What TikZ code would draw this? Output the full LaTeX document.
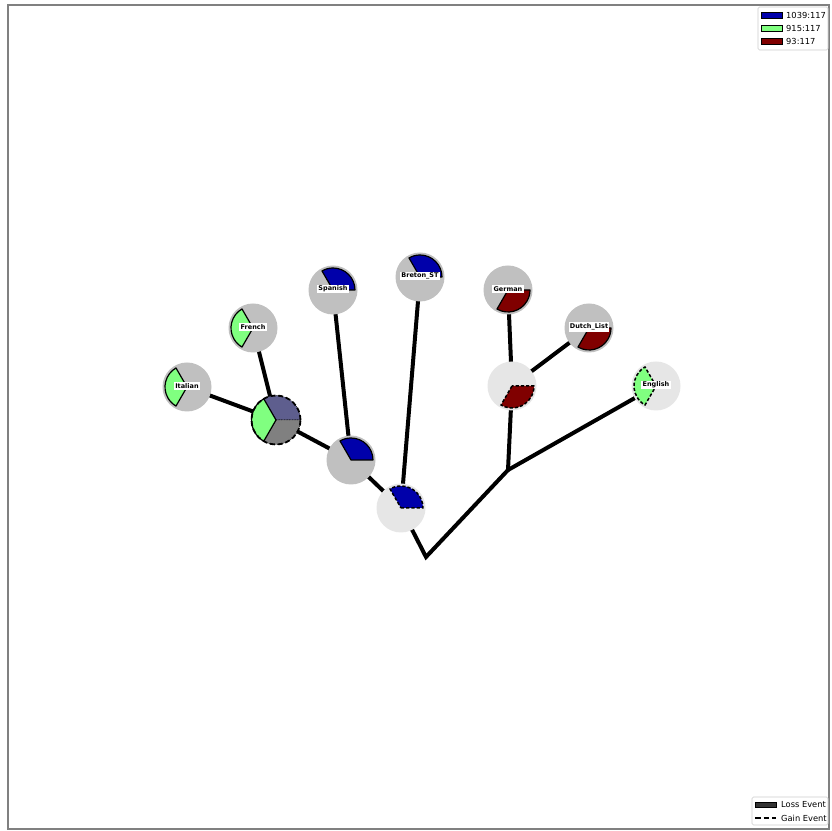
\documentclass[tikz,border=0pt]{standalone}
\usepackage{fontspec}
\setmainfont{DejaVu Sans}
\usetikzlibrary{backgrounds}

\definecolor{famblue}{HTML}{0000AA}
\definecolor{famgreen}{HTML}{80FF80}
\definecolor{famred}{HTML}{800000}
\definecolor{leafgrey}{HTML}{C0C0C0}
\definecolor{innergrey}{HTML}{E6E6E6}
\definecolor{lossblue}{HTML}{5E5E8E}
\definecolor{lossgrey}{HTML}{808080}
\definecolor{framegrey}{HTML}{808080}

\tikzset{
  treenode/.style={circle, minimum size=49pt, inner sep=0pt, draw=none},
  leafnode/.style={treenode, fill=leafgrey},
  innernode/.style={treenode, fill=innergrey},
  branch/.style={line width=4pt, line join=miter},
  slicesolid/.style={draw=black, line width=1.2pt, line join=round},
  slicegain/.style={draw=black, line width=1.5pt, line join=round, dash pattern=on 3.2pt off 2pt},
  slicefaint/.style={draw=black, line width=0.5pt, dash pattern=on 0.8pt off 0.8pt},
  lossring/.style={draw=black, line width=1.8pt, dash pattern=on 5pt off 2.8pt},
  taxon/.style={fill=white, inner sep=1.3pt, font=\fontsize{6.5}{7.5}\selectfont\bfseries},
  legendbox/.style={draw=black!20, fill=white, rounded corners=1.5pt, line width=0.6pt},
  legendtext/.style={font=\fontsize{8.3}{9}\selectfont, anchor=west, inner sep=0pt},
  legendpatch/.style={draw=black, line width=0.8pt},
}

% one third of a pie: centre, start angle, end angle, radius, style
\newcommand\pieslice[5]{%
  \path[#5] (#1) -- ++(#2:#4) arc[start angle=#2, end angle=#3, radius=#4] -- cycle;}

\begin{document}
\begin{tikzpicture}[x=1pt, y=1pt]
  \useasboundingbox (0,0) rectangle (831,831);

  % tree nodes
  \node[leafnode]  (italian) at (187,444) {};
  \node[leafnode]  (french)  at (253,503) {};
  \node[treenode]  (loss)    at (276,411) {};
  \node[leafnode]  (spanish) at (333,541) {};
  \node[leafnode]  (A)       at (351,371) {};
  \node[leafnode]  (breton)  at (420,554) {};
  \node[innernode] (B)       at (401,323) {};
  \node[leafnode]  (german)  at (508,541) {};
  \node[leafnode]  (dutch)   at (589,503) {};
  \node[innernode] (C)       at (512,445) {};
  \node[innernode] (english) at (656,445) {};
  \coordinate (root) at (426,274);
  \coordinate (D)    at (508,361);

  % page, frame and branches, beneath the nodes
  \begin{scope}[on background layer]
    \fill[white] (0,0) rectangle (831,831);
    \draw[framegrey, line width=1.2pt] (8,2) rectangle (829,826);
    \draw[branch] (B.center) -- (root) -- (D) -- (C.center);
    \draw[branch] (D) -- (english.center);
    \draw[branch] (C.center) -- (german.center);
    \draw[branch] (C.center) -- (dutch.center);
    \draw[branch] (B.center) -- (breton.center);
    \draw[branch] (B.center) -- (A.center);
    \draw[branch] (A.center) -- (spanish.center);
    \draw[branch] (A.center) -- (loss.center);
    \draw[branch] (loss.center) -- (italian.center);
    \draw[branch] (loss.center) -- (french.center);
  \end{scope}

  % family slices
  \pieslice{italian.center}{120}{240}{22}{fill=famgreen, slicesolid}
  \pieslice{french.center}{120}{240}{22}{fill=famgreen, slicesolid}
  \pieslice{spanish.center}{0}{120}{22}{fill=famblue, slicesolid}
  \pieslice{breton.center}{0}{120}{22}{fill=famblue, slicesolid}
  \pieslice{german.center}{240}{360}{22}{fill=famred, slicesolid}
  \pieslice{dutch.center}{240}{360}{22}{fill=famred, slicesolid}
  \pieslice{A.center}{0}{120}{22}{fill=famblue, slicesolid}
  \pieslice{B.center}{0}{120}{22}{fill=famblue, slicegain}
  \pieslice{C.center}{240}{360}{22}{fill=famred, slicegain}
  \pieslice{english.center}{120}{240}{22}{fill=famgreen, slicegain}

  % node with losses
  \pieslice{loss.center}{0}{120}{24.5}{fill=lossblue, slicefaint}
  \pieslice{loss.center}{240}{360}{24.5}{fill=lossgrey, slicefaint}
  \pieslice{loss.center}{120}{240}{24.5}{fill=famgreen, slicesolid}
  \draw[lossring] (loss.center) circle[radius=24.5];

  % taxon labels
  \node[taxon] (italian-lbl) at ([yshift=1]italian.center) {Italian};
  \node[taxon] (french-lbl)  at ([yshift=1]french.center)  {French};
  \node[taxon] (spanish-lbl) at ([yshift=1]spanish.center) {Spanish};
  \node[taxon] (breton-lbl)  at ([yshift=1]breton.center)  {Breton\_ST};
  \node[taxon] (german-lbl)  at ([yshift=1]german.center)  {German};
  \node[taxon] (dutch-lbl)   at ([yshift=1]dutch.center)   {Dutch\_List};
  \node[taxon] (english-lbl) at ([yshift=1]english.center) {English};

  % family legend
  \draw[legendbox] (758,781) rectangle (828,824);
  \draw[legendpatch, fill=famblue]  (761,813) rectangle (782,819);
  \draw[legendpatch, fill=famgreen] (761,800) rectangle (782,806);
  \draw[legendpatch, fill=famred]   (761,787) rectangle (782,793);
  \node[legendtext] (fam1) at (786,816) {1039:117};
  \node[legendtext] (fam2) at (786,803) {915:117};
  \node[legendtext] (fam3) at (786,790) {93:117};

  % event legend
  \draw[legendbox] (752,6) rectangle (828,34);
  \draw[legendpatch, fill=black!80] (755,23.5) rectangle (776,28.5);
  \draw[black, line width=1.5pt, dash pattern=on 5.5pt off 3pt] (755,13) -- (776,13);
  \node[legendtext] (ev1) at (781,26) {Loss Event};
  \node[legendtext] (ev2) at (781,13) {Gain Event};
\end{tikzpicture}
\end{document}
